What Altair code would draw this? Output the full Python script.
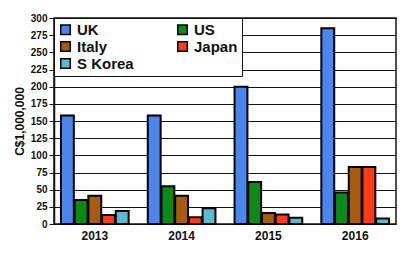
import altair as alt
import pandas as pd

years = ["2013", "2014", "2015", "2016"]
series = ["UK", "US", "Italy", "Japan", "S Korea"]
uk = [158, 158, 200, 285]
us = [35, 55, 61, 46]
italy = [41, 41, 16, 83]
japan = [13, 10, 14, 83]
skorea = [19, 23, 9, 8]
colors = ["#4a86f0", "#0b8a16", "#a65c0c", "#ff3b12", "#5bbad3"]
y_ticks = list(range(0, 301, 25))

rows = []
for name, vals in zip(series, [uk, us, italy, japan, skorea]):
    for yr, v in zip(years, vals):
        rows.append({"Year": yr, "Series": name, "Value": v})
df = pd.DataFrame(rows)

FONT = "Liberation Sans"

chart = alt.Chart(df).mark_bar(stroke="black", strokeWidth=2).encode(
    x=alt.X(
        "Year:N",
        sort=years,
        scale=alt.Scale(paddingInner=0.22, paddingOuter=0.08),
        axis=alt.Axis(
            title=None, labelAngle=0, labelFont=FONT, labelFontWeight="bold",
            labelFontSize=12, labelColor="#111", ticks=False, domain=False,
            labelPadding=6,
        ),
    ),
    xOffset=alt.XOffset("Series:N", sort=series, scale=alt.Scale(paddingInner=0.06)),
    y=alt.Y(
        "Value:Q",
        scale=alt.Scale(domain=[0, 300], nice=False),
        axis=alt.Axis(
            values=y_ticks, title="C$1,000,000", titleFont=FONT,
            titleFontWeight="bold", titleFontSize=12, titleColor="#111",
            labelFont=FONT, labelFontWeight="bold", labelFontSize=10,
            labelColor="#111", gridColor="#111", gridWidth=1,
            domainColor="#111", domainWidth=1.5, tickColor="#111",
            tickSize=5,
        ),
    ),
    color=alt.Color(
        "Series:N",
        sort=series,
        scale=alt.Scale(domain=series, range=colors),
        legend=alt.Legend(
            title=None, orient="top-left", columns=2, direction="horizontal",
            symbolType="square",
            symbolSize=90, symbolStrokeColor="black", symbolStrokeWidth=1.5,
            labelFont=FONT, labelFontWeight="bold", labelFontSize=15,
            labelColor="#111", fillColor="white", strokeColor="#111",
            padding=4, columnPadding=40, rowPadding=0, offset=0,
        ),
    ),
).properties(
    width=393, height=238,
    autosize=alt.AutoSizeParams(type="fit", contains="padding"),
).configure_view(stroke="#111", strokeWidth=1.5)

chart.save("out.html", embed_options={"renderer": "svg", "actions": False})
